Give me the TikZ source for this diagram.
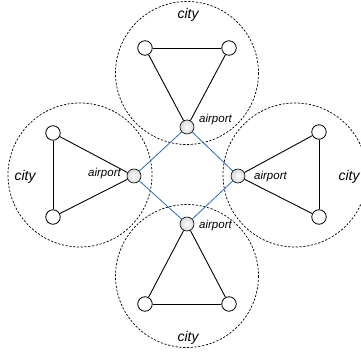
\documentclass[tikz,border=0pt]{standalone}
\usepackage{fontspec}
\setmainfont{Liberation Sans}
\definecolor{route}{RGB}{45,105,185}
\begin{document}
\begin{tikzpicture}[x=1pt,y=-1pt,
		town/.style={circle,draw,fill=white,minimum size=14.5pt,inner sep=0pt,line width=0.8pt},
		hub/.style={circle,draw,minimum size=14pt,inner sep=0pt,line width=0.6pt,inner color=white,outer color=gray!30},
		ring/.style={dash pattern=on 2.2pt off 1.6pt,line width=0.7pt},
		road/.style={line width=0.9pt},
		flight/.style={draw=route,line width=0.8pt},
		citytext/.style={font=\itshape\fontsize{14}{14}\selectfont},
		hubtext/.style={font=\itshape\fontsize{11.5}{11.5}\selectfont}]
		\useasboundingbox (0,0) rectangle (361,355);

		% city borders
		\draw[ring] (187,73) circle (71.5);
		\draw[ring] (80,175) circle (72);
		\draw[ring] (295,175) circle (72);
		\draw[ring] (187,276) circle (71.5);

		% top city
		\node[town] (T1) at (145,48) {};
		\node[town] (T2) at (229,48) {};
		\node[hub] (TA) at (187,127) {};
		\draw[road] (T1) -- (T2);
		\draw[road] (T2) -- (TA);
		\draw[road] (TA) -- (T1);

		% left city
		\node[town] (L1) at (53,133) {};
		\node[town] (L2) at (53,217) {};
		\node[hub] (LA) at (134,176) {};
		\draw[road] (L1) -- (L2);
		\draw[road] (L2) -- (LA);
		\draw[road] (LA) -- (L1);

		% right city
		\node[town] (R1) at (319,132) {};
		\node[town] (R2) at (319,217) {};
		\node[hub] (RA) at (238,176) {};
		\draw[road] (R1) -- (R2);
		\draw[road] (R2) -- (RA);
		\draw[road] (RA) -- (R1);

		% bottom city
		\node[town] (B1) at (145,304) {};
		\node[town] (B2) at (229,304) {};
		\node[hub] (BA) at (187,224) {};
		\draw[road] (B1) -- (B2);
		\draw[road] (B2) -- (BA);
		\draw[road] (BA) -- (B1);

		% flights between the airports
		\draw[flight] (TA) -- (LA);
		\draw[flight] (LA) -- (BA);
		\draw[flight] (BA) -- (RA);
		\draw[flight] (RA) -- (TA);

		% labels
		\node[citytext] (Tc) at (188,15) {city};
		\node[citytext] (Lc) at (25,177) {city};
		\node[citytext] (Rc) at (349,177) {city};
		\node[citytext] (Bc) at (188,338) {city};
		\node[hubtext,anchor=west,inner sep=0pt] (Tl) at (199,120) {airport};
		\node[hubtext,anchor=east,inner sep=0pt] (Ll) at (121,174) {airport};
		\node[hubtext,anchor=west,inner sep=0pt] (Rl) at (254,177) {airport};
		\node[hubtext,anchor=west,inner sep=0pt] (Bl) at (199,226) {airport};
	\end{tikzpicture}
\end{document}
